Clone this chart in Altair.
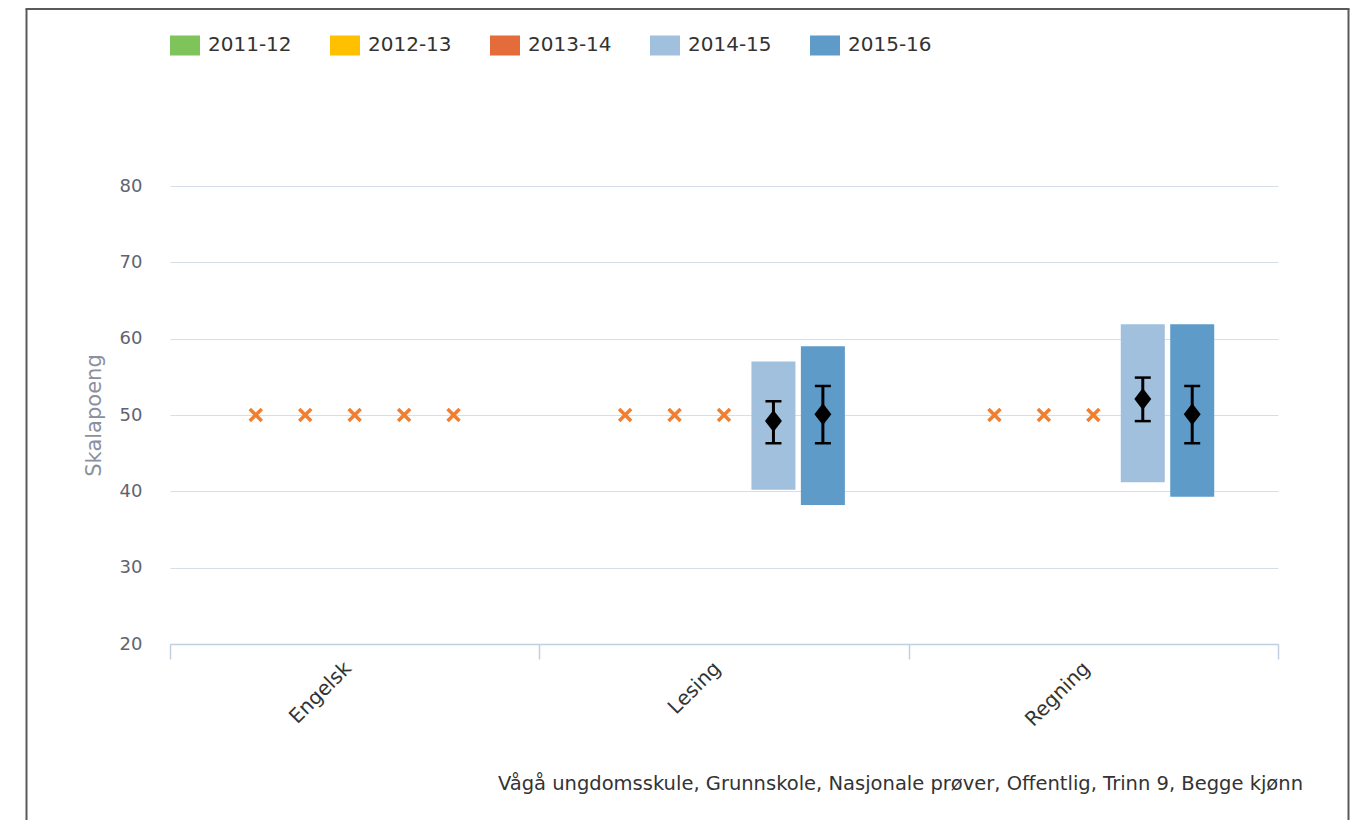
import altair as alt
import pandas as pd

subjects = ["Engelsk", "Lesing", "Regning"]
years = ["2011-12", "2012-13", "2013-14", "2014-15", "2015-16"]
year_colors = ["#7EC45A", "#FFC000", "#E46C3A", "#A0C0DE", "#5E9BC9"]

# result ranges (bars), means (diamonds) and confidence intervals (error bars)
bar_subject = ["Lesing", "Lesing", "Regning", "Regning"]
bar_year = ["2014-15", "2015-16", "2014-15", "2015-16"]
bar_low = [40.2, 38.2, 41.2, 39.3]
bar_high = [57.0, 59.0, 61.9, 61.9]
mean_value = [49.2, 50.1, 52.1, 50.1]
err_low = [46.3, 46.3, 49.2, 46.3]
err_high = [51.8, 53.8, 54.9, 53.8]

# years without published result (orange x markers)
missing_subject = ["Engelsk", "Engelsk", "Engelsk", "Engelsk", "Engelsk",
                   "Lesing", "Lesing", "Lesing",
                   "Regning", "Regning", "Regning"]
missing_year = ["2011-12", "2012-13", "2013-14", "2014-15", "2015-16",
                "2011-12", "2012-13", "2013-14",
                "2011-12", "2012-13", "2013-14"]
missing_value = [50, 50, 50, 50, 50, 50, 50, 50, 50, 50, 50]

y_ticks = [20, 30, 40, 50, 60, 70, 80]
credits = ["Vågå ungdomsskule, Grunnskole, Nasjonale prøver, Offentlig, Trinn 9, Begge kjønn"]

bars_df = pd.DataFrame({
    "subject": bar_subject, "year": bar_year, "low": bar_low, "high": bar_high,
    "mean": mean_value, "elow": err_low, "ehigh": err_high,
})
miss_df = pd.DataFrame({"subject": missing_subject, "year": missing_year, "value": missing_value})
credits_df = pd.DataFrame({"text": credits})

FONT = "DejaVu Sans"
W, H = 1108, 458

x_enc = alt.X(
    "subject:N",
    scale=alt.Scale(domain=subjects, paddingInner=0, paddingOuter=0),
    axis=alt.Axis(
        title=None, labelAngle=-45, labelBaseline="bottom", labelFontSize=20, labelFont=FONT,
        labelColor="#333333", domainColor="#C0D0E0", domainWidth=1.5, tickColor="#C0D0E0",
        tickWidth=1.5, tickSize=15, tickBand="extent", labelPadding=13, grid=False,
    ),
)
# empty slots on either side of the five year positions inside each subject band
offset_domain = ["pad_left"] + years + ["pad_right"]
xoff_enc = alt.XOffset("year:N", scale=alt.Scale(domain=offset_domain, paddingInner=0.11, paddingOuter=0.29))
y_scale = alt.Scale(domain=[20, 80], nice=False, zero=False)
y_axis = alt.Axis(
    title="Skalapoeng", values=y_ticks, gridColor="#D8DEE8", gridWidth=1.2,
    domain=False, ticks=False, tickSize=0, labelFontSize=18, labelFont=FONT,
    labelColor="#5F6470", labelPadding=28, titleFontSize=21, titleFont=FONT,
    titleColor="#8C8F9E", titleFontWeight="normal", titlePadding=15,
)

bars = alt.Chart(bars_df).mark_rect().encode(
    x=x_enc, xOffset=xoff_enc,
    y=alt.Y("low:Q", scale=y_scale, axis=y_axis),
    y2="high:Q",
    color=alt.Color(
        "year:N",
        scale=alt.Scale(domain=years, range=year_colors),
        legend=alt.Legend(
            orient="none", legendX=0, legendY=-156, direction="horizontal", columns=5,
            title=None, symbolType="M-1,-0.667H1V0.667H-1Z", symbolSize=900,
            symbolStrokeWidth=0, labelFontSize=20, labelFont=FONT, labelColor="#333333",
            labelOffset=8, columnPadding=38,
        ),
    ),
)

crosses = alt.Chart(miss_df).mark_point(
    shape="M-1,-1L1,1M-1,1L1,-1", filled=False, strokeWidth=3.5, size=144,
    color="#F07F32", opacity=1,
).encode(x=x_enc, xOffset=xoff_enc, y=alt.Y("value:Q", scale=y_scale))

err = alt.Chart(bars_df).mark_rule(color="black", strokeWidth=3).encode(
    x=x_enc, xOffset=xoff_enc, y=alt.Y("elow:Q", scale=y_scale), y2="ehigh:Q"
)
cap_lo = alt.Chart(bars_df).mark_tick(color="black", thickness=2.5, size=16, opacity=1).encode(
    x=x_enc, xOffset=xoff_enc, y=alt.Y("elow:Q", scale=y_scale)
)
cap_hi = alt.Chart(bars_df).mark_tick(color="black", thickness=2.5, size=16, opacity=1).encode(
    x=x_enc, xOffset=xoff_enc, y=alt.Y("ehigh:Q", scale=y_scale)
)
diamonds = alt.Chart(bars_df).mark_point(
    shape="M0,-1L0.77,0L0,1L-0.77,0Z", filled=True, size=484, color="black", opacity=1
).encode(x=x_enc, xOffset=xoff_enc, y=alt.Y("mean:Q", scale=y_scale))

# source line, bottom right
credit_text = alt.Chart(credits_df).mark_text(
    align="right", baseline="alphabetic", font=FONT, fontSize=19.5, color="#333333"
).encode(text="text:N", x=alt.value(1133), y=alt.value(604))

one = alt.Data(values=[{"k": 1}])
frame_color = "#5A5A5A"
frame_left = alt.Chart(one).mark_rule(color=frame_color, strokeWidth=2).encode(
    x=alt.value(-143.5), y=alt.value(-177), y2=alt.value(640))
frame_top = alt.Chart(one).mark_rule(color=frame_color, strokeWidth=2).encode(
    x=alt.value(-144.5), x2=alt.value(1179.5), y=alt.value(-177))
frame_right = alt.Chart(one).mark_rule(color=frame_color, strokeWidth=2).encode(
    x=alt.value(1178.5), y=alt.value(-177), y2=alt.value(640))

chart = alt.layer(
    bars, crosses, err, cap_lo, cap_hi, diamonds, credit_text,
    frame_left, frame_top, frame_right
).properties(
    width=W, height=H,
    background="white",
    autosize=alt.AutoSizeParams(type="none"),
    padding={"left": 162, "top": 178, "right": 78, "bottom": 176},
).configure_view(stroke=None)

chart.save("out.html", embed_options={"renderer": "svg", "actions": False})
